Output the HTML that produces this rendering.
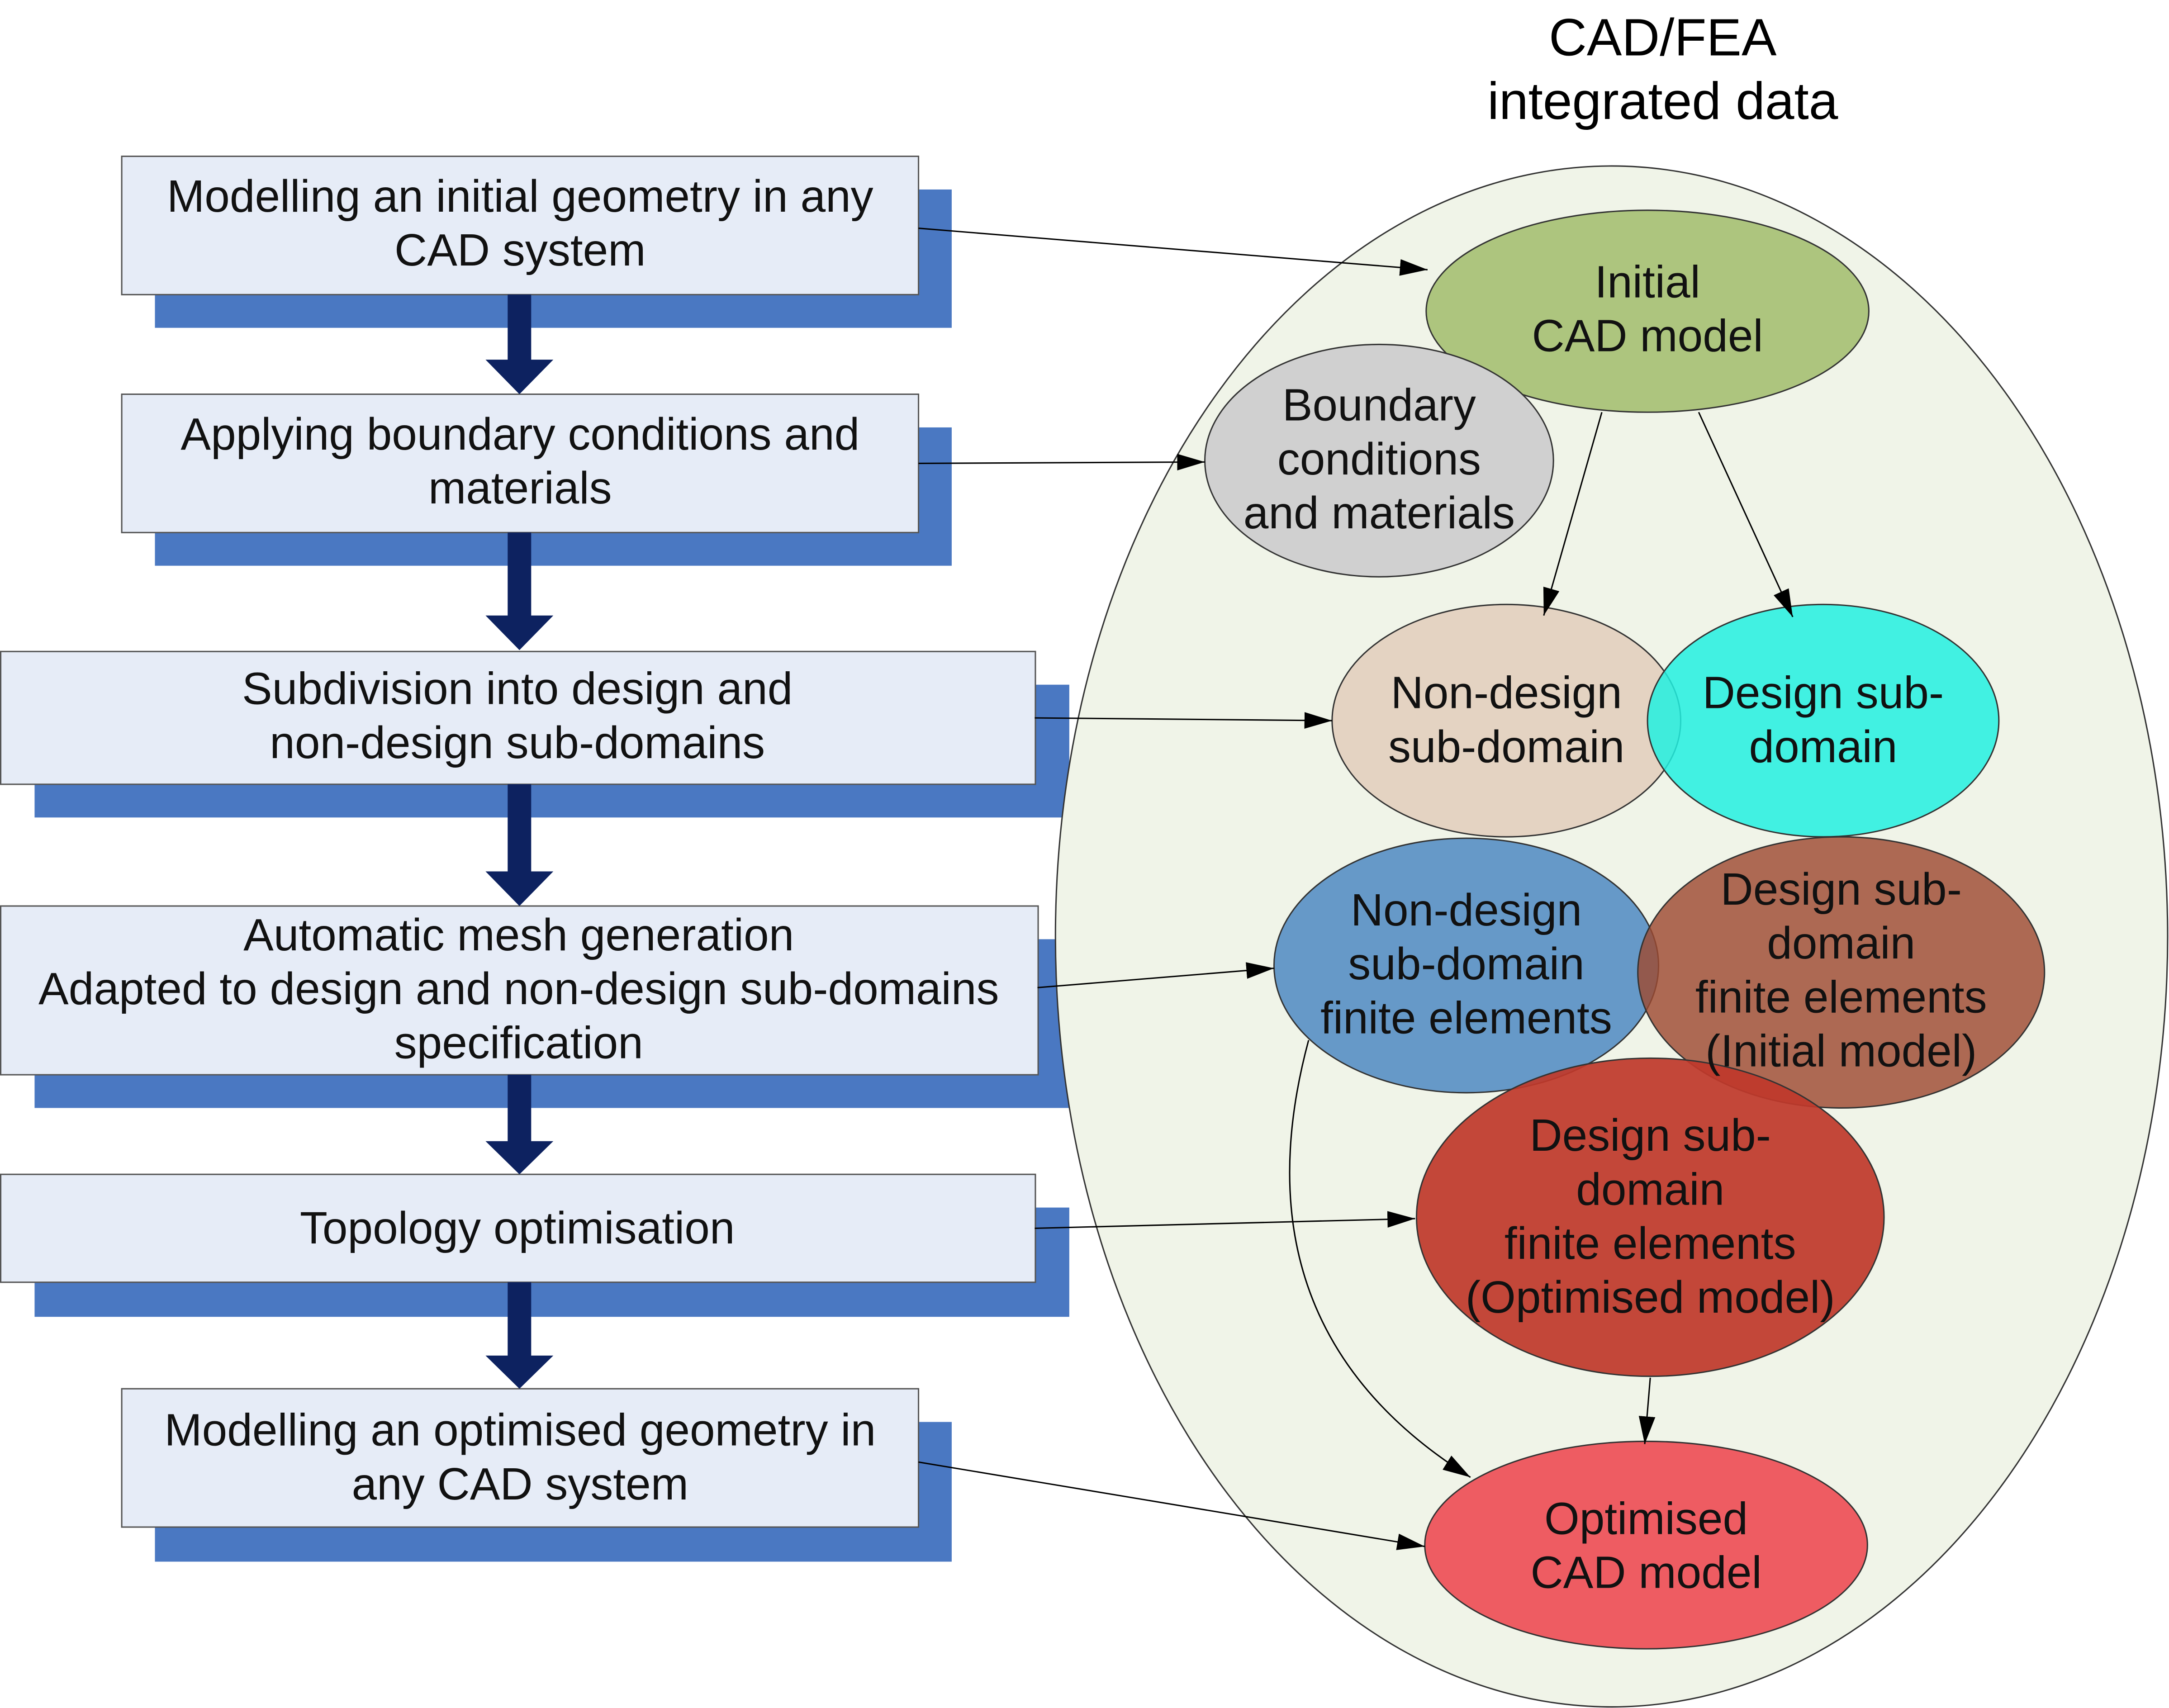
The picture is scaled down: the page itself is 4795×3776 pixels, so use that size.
<!DOCTYPE html>
<html><head><meta charset="utf-8"><style>html,body{margin:0;padding:0;background:#fff}svg{display:block}</style></head>
<body>
<svg width="4795" height="3776" viewBox="0 0 1568 1234.8" preserveAspectRatio="none" xmlns="http://www.w3.org/2000/svg" font-family="Liberation Sans, Arial, sans-serif">
<defs>
<marker id="a" viewBox="0 0 20 12" refX="20" refY="6" markerWidth="20" markerHeight="12" markerUnits="userSpaceOnUse" orient="auto"><path d="M0,0 L20,6 L0,12 z" fill="#000"/></marker>
</defs>
<g fill="#4a78c2">
<rect x="112" y="137" width="576" height="100"/>
<rect x="112" y="309" width="576" height="100"/>
<rect x="25" y="495" width="748" height="96"/>
<rect x="25" y="679" width="749" height="122"/>
<rect x="25" y="873" width="748" height="79"/>
<rect x="112" y="1028" width="576" height="101"/>
</g>
<g fill="#e6ecf7" stroke="#555" stroke-width="1">
<rect x="88" y="113" width="576" height="100"/>
<rect x="88" y="285" width="576" height="100"/>
<rect x="0.5" y="471" width="748" height="96"/>
<rect x="0.5" y="655" width="750" height="122"/>
<rect x="0.5" y="849" width="748" height="78"/>
<rect x="88" y="1004" width="576" height="100"/>
</g>
<g fill="#0d2260">
<path d="M367,213 h17 v47 h16 l-24.5,25 l-24.5,-25 h16z"/>
<path d="M367,385 h17 v60 h16 l-24.5,25 l-24.5,-25 h16z"/>
<path d="M367,567 h17 v63 h16 l-24.5,25 l-24.5,-25 h16z"/>
<path d="M367,777 h17 v48 h16 l-24.5,24 l-24.5,-24 h16z"/>
<path d="M367,927 h17 v53 h16 l-24.5,24 l-24.5,-24 h16z"/>
</g>
<g font-size="32.7" fill="#111" text-anchor="middle">
<text x="376" y="153">Modelling an initial geometry in any</text>
<text x="376" y="192">CAD system</text>
<text x="376" y="325">Applying boundary conditions and</text>
<text x="376" y="364">materials</text>
<text x="374" y="509">Subdivision into design and</text>
<text x="374" y="548">non-design sub-domains</text>
<text x="375" y="687">Automatic mesh generation</text>
<text x="375" y="726">Adapted to design and non-design sub-domains</text>
<text x="375" y="765">specification</text>
<text x="374" y="899">Topology optimisation</text>
<text x="376" y="1045">Modelling an optimised geometry in</text>
<text x="376" y="1084">any CAD system</text>
</g>
<text x="1202" y="40" font-size="38" text-anchor="middle" fill="#000">CAD/FEA</text>
<text x="1202" y="86" font-size="38" text-anchor="middle" fill="#000">integrated data</text>
<ellipse cx="1165" cy="677" rx="402" ry="557" fill="#f0f4e8" stroke="#333" stroke-width="1"/>
<g stroke="#333" stroke-width="1">
<ellipse cx="1191" cy="225" rx="160" ry="73" fill="#adc57e"/>
<ellipse cx="997" cy="333" rx="126" ry="84" fill="#d0d0d0"/>
<ellipse cx="1089" cy="521" rx="126" ry="84" fill="#e4d3c2"/>
<ellipse cx="1318" cy="521" rx="127" ry="84" fill="#22f0e0" fill-opacity="0.85"/>
<ellipse cx="1060" cy="698" rx="139" ry="92" fill="#6699c8"/>
<ellipse cx="1331" cy="703" rx="147" ry="98" fill="#9e4a32" fill-opacity="0.82"/>
<ellipse cx="1193" cy="880" rx="169" ry="115" fill="#c0392b" fill-opacity="0.93"/>
<ellipse cx="1190" cy="1117" rx="160" ry="75" fill="#ee5c62"/>
</g>
<g font-size="32.7" fill="#111" text-anchor="middle">
<text x="1191" y="215">Initial</text><text x="1191" y="254">CAD model</text>
<text x="997" y="304">Boundary</text><text x="997" y="343">conditions</text><text x="997" y="382">and materials</text>
<text x="1089" y="512">Non-design</text><text x="1089" y="551">sub-domain</text>
<text x="1318" y="512">Design sub-</text><text x="1318" y="551">domain</text>
<text x="1060" y="669">Non-design</text><text x="1060" y="708">sub-domain</text><text x="1060" y="747">finite elements</text>
<text x="1331" y="654">Design sub-</text><text x="1331" y="693">domain</text><text x="1331" y="732">finite elements</text><text x="1331" y="771">(Initial model)</text>
<text x="1193" y="832">Design sub-</text><text x="1193" y="871">domain</text><text x="1193" y="910">finite elements</text><text x="1193" y="949">(Optimised model)</text>
<text x="1190" y="1109">Optimised</text><text x="1190" y="1148">CAD model</text>
</g>
<g stroke="#000" stroke-width="1" fill="none" marker-end="url(#a)">
<line x1="664" y1="165" x2="1032" y2="195"/>
<line x1="664" y1="335" x2="871" y2="334"/>
<line x1="748" y1="519" x2="963" y2="521"/>
<line x1="750" y1="714" x2="921" y2="700"/>
<line x1="748" y1="888" x2="1023" y2="881"/>
<line x1="664" y1="1057" x2="1030" y2="1118"/>
<line x1="1158" y1="298" x2="1116" y2="445"/>
<line x1="1228" y1="298" x2="1296" y2="446"/>
<line x1="1193" y1="996" x2="1189" y2="1044"/>
<path d="M946,752 Q890,960 1063,1068"/>
</g>
</svg>
</body></html>
